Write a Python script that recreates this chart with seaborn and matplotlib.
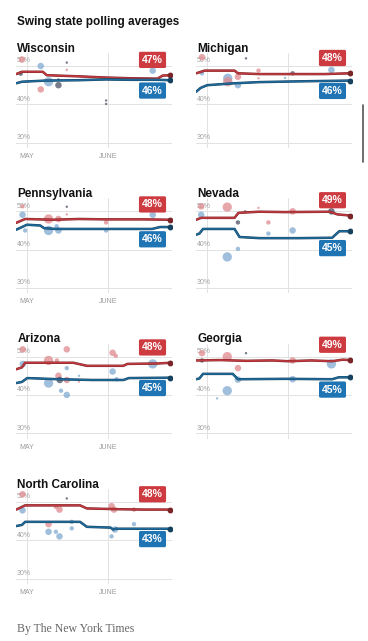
import matplotlib
matplotlib.use("Agg")
import matplotlib.pyplot as plt
import matplotlib.patheffects as pe
import matplotlib.transforms as mtransforms
from matplotlib.lines import Line2D
import pandas as pd
import seaborn as sns

START = pd.Timestamp("2024-05-01")

STATES = ["Wisconsin", "Michigan", "Pennsylvania", "Nevada",
          "Arizona", "Georgia", "North Carolina"]
REP_FINAL = [47, 48, 48, 49, 48, 49, 48]
DEM_FINAL = [46, 46, 46, 45, 45, 45, 43]
MONTH_TICKS = ["2024-05-01", "2024-06-01"]
MONTH_LABELS = ["MAY", "JUNE"]
Y_TICKS = [30, 40, 50]

# polling averages as (days after May 1, percent)
REP_TREND = {
    "Wisconsin": [(-4.2, 47.9), (-2, 48.5), (6, 48.5), (7.5, 47.6), (20, 47.3),
                  (30, 47.0), (40, 46.8), (50, 46.7), (52, 47.5), (55, 47.6)],
    "Michigan": [(-4.2, 48.1), (-1, 48.8), (10.5, 48.8), (11.8, 48.1), (20, 47.9),
                 (30, 47.9), (45, 47.9), (55, 48.1)],
    "Pennsylvania": [(-4.2, 47.0), (-0.8, 48.0), (10, 47.8), (20, 48.0), (30, 47.9),
                     (45, 47.9), (55, 47.8)],
    "Nevada": [(-4.2, 47.8), (-2.3, 48.3), (10.5, 48.3), (12, 49.6), (20, 49.9),
               (30, 49.8), (47, 49.9), (50, 49.2), (55, 48.9)],
    "Arizona": [(-4.2, 46.7), (-2, 47.2), (-0.8, 48.4), (17.7, 48.4), (22.9, 47.6),
                (36.9, 47.6), (38.5, 48.1), (50, 48.2), (55, 48.4)],
    "Georgia": [(-4.2, 49.0), (5, 49.1), (15, 48.9), (25, 49.0), (31, 48.8),
                (40, 49.0), (48, 48.8), (52, 49.2), (55, 49.1)],
    "North Carolina": [(-4.2, 48.0), (-0.8, 49.1), (20.3, 49.1), (22.9, 48.3),
                       (35, 48.1), (45, 48.0), (55, 48.0)],
}
DEM_TREND = {
    "Wisconsin": [(-4.2, 45.5), (-2, 45.9), (7, 46.2), (20, 46.3), (30, 46.5),
                  (40, 46.4), (50, 46.4), (55, 46.3)],
    "Michigan": [(-4.2, 43.3), (-2.5, 44.3), (0, 45.0), (10.5, 45.5), (20, 45.8),
                 (35, 46.0), (55, 46.2)],
    "Pennsylvania": [(-4.2, 45.2), (-0.1, 46.5), (5, 46.3), (6.5, 45.6), (11, 45.4),
                     (30, 45.4), (48, 45.4), (51, 45.9), (55, 45.9)],
    "Nevada": [(-4.2, 43.9), (-3, 44.2), (-1.6, 45.4), (10.5, 45.4), (12.4, 43.3),
               (20, 43.0), (35, 43.0), (48, 43.1), (50.7, 44.8), (55, 44.8)],
    "Arizona": [(-4.2, 43.1), (-2, 43.4), (0, 44.4), (12, 44.1), (25, 43.9),
                (37, 43.9), (39, 44.4), (55, 44.5)],
    "Georgia": [(-4.2, 44.1), (-3, 44.3), (-1.6, 45.5), (9.8, 45.5), (11.8, 44.1),
                (30, 44.2), (48, 44.1), (50.5, 44.6), (55, 44.6)],
    "North Carolina": [(-4.2, 43.7), (-2, 44.0), (-0.8, 44.8), (20.3, 44.8),
                       (22.9, 43.5), (32, 43.3), (33, 42.8), (34, 43.0), (55, 43.0)],
}

# individual polls: (days after May 1, percent, R / D / X=overlap, size class)
POLLS = {
    "Wisconsin": [(-2, 51.7, "R", 3), (-2.5, 48.0, "X", 2), (5.2, 50.0, "D", 3),
                  (5.2, 43.9, "R", 3), (8.2, 45.9, "D", 4), (12, 45.0, "X", 3),
                  (12, 46.5, "X", 1), (15.2, 50.9, "X", 1), (15.2, 49.0, "R", 1),
                  (30.3, 41.0, "X", 1), (30.3, 40.1, "X", 1), (48.2, 48.8, "D", 3)],
    "Michigan": [(-2, 52.3, "R", 3), (-2, 48.1, "D", 2), (14.9, 52.0, "X", 1),
                 (7.9, 46.8, "D", 4), (7.9, 45.9, "R", 4), (11.8, 47.2, "R", 3),
                 (11.8, 45.0, "D", 3), (19.7, 48.8, "R", 2), (19.7, 46.8, "R", 1),
                 (29.9, 46.9, "D", 1), (32.8, 48.1, "X", 2), (47.7, 49.0, "D", 3)],
    "Pennsylvania": [(-1.8, 51.3, "R", 2), (-1.8, 49.1, "D", 3), (-0.8, 45.0, "D", 2),
                     (15.2, 51.2, "X", 1), (15.2, 49.2, "R", 1), (8.2, 48.0, "R", 4),
                     (8.2, 45.0, "D", 4), (12, 48.0, "R", 3), (12, 45.0, "D", 3),
                     (11.3, 46.1, "D", 2), (30.3, 47.1, "R", 2), (30.3, 45.0, "D", 2),
                     (48.2, 49.1, "D", 3)],
    "Nevada": [(-2.3, 49.1, "D", 3), (-2.3, 51.3, "R", 3), (7.7, 51.1, "R", 4),
               (14.6, 50.0, "X", 1), (19.7, 50.9, "R", 1), (11.8, 47.1, "X", 2),
               (23.5, 47.1, "R", 2), (23.5, 44.2, "D", 2), (32.8, 50.0, "R", 3),
               (32.8, 45.0, "D", 3), (47.7, 50.0, "X", 3), (7.7, 38.1, "D", 4),
               (11.8, 40.2, "D", 2)],
    "Arizona": [(-1.7, 51.9, "R", 3), (-1.7, 48.1, "D", 3), (8.2, 49.0, "R", 4),
                (11.4, 49.0, "R", 2), (15.2, 51.9, "R", 3), (15.2, 47.0, "D", 2),
                (12, 45.0, "R", 3), (8.2, 43.1, "D", 4), (12.5, 43.9, "X", 3),
                (15.2, 43.9, "R", 3), (19.9, 45.0, "D", 1), (19.9, 43.5, "R", 1),
                (13, 41.1, "D", 2), (15.2, 40.0, "D", 3), (32.8, 51.0, "R", 3),
                (34, 50.2, "R", 2), (32.8, 46.1, "D", 3), (34.3, 44.1, "D", 2),
                (48.2, 48.1, "D", 4)],
    "Georgia": [(-2, 50.9, "R", 3), (-2, 49.0, "X", 2), (7.7, 50.0, "R", 4),
                (14.9, 50.9, "X", 1), (11.8, 47.0, "R", 3), (11.8, 44.0, "D", 3),
                (7.7, 41.1, "D", 4), (3.8, 39.1, "D", 1), (32.8, 49.0, "R", 3),
                (32.8, 44.1, "D", 3), (47.7, 48.1, "D", 4)],
    "North Carolina": [(-1.8, 52.0, "R", 3), (-1.8, 47.8, "D", 3), (15.2, 50.9, "X", 1),
                       (11, 48.7, "R", 2), (12.4, 48.0, "R", 3), (8.2, 44.2, "R", 3),
                       (8.2, 42.2, "D", 3), (11, 42.2, "D", 2), (12.4, 41.0, "D", 3),
                       (17.1, 44.8, "D", 2), (17.1, 43.1, "D", 2), (32.4, 48.9, "R", 3),
                       (33.3, 48.0, "R", 3), (32.4, 41.0, "D", 2), (33.7, 42.8, "D", 3),
                       (41, 48.0, "R", 2), (41, 44.2, "D", 2)],
}

LINE_COLORS = {"R": "#c23a3f", "D": "#1f6b9c"}
EDGE_COLORS = {"R": "#7c2529", "D": "#15425f"}
BOX_COLORS = {"R": "#cd3b41", "D": "#1f74b4"}
DOT_COLORS = {"R": "#e08a8e", "D": "#80aad2", "X": "#4a5064"}
DOT_SIZES = {1: 3, 2: 10, 3: 22, 4: 45}

sns.set_theme(style="white")
plt.rcParams["font.family"] = ["Liberation Sans", "DejaVu Sans"]

W, H = 368, 641
fig = plt.figure(figsize=(W / 100, H / 100), dpi=100)


def to_dates(days):
    return START + pd.to_timedelta(pd.Series(days, dtype=float), unit="D")


for i, state in enumerate(STATES):
    row, col = divmod(i, 2)
    left = (16 if col == 0 else 196) / W
    top = 53 + 145.3 * row
    ax = fig.add_axes([left, 1 - (top + 95) / H, 156 / W, 95 / H])

    polls = pd.DataFrame(POLLS[state], columns=["day", "pct", "kind", "size"])
    polls["date"] = to_dates(polls["day"]).values
    sns.scatterplot(data=polls, x="date", y="pct", hue="kind", palette=DOT_COLORS,
                    size="size", sizes=DOT_SIZES, alpha=0.75, linewidth=0,
                    legend=False, ax=ax, zorder=2)

    trends = []
    for party, src in (("R", REP_TREND), ("D", DEM_TREND)):
        t = pd.DataFrame(src[state], columns=["day", "pct"])
        t["party"] = party
        trends.append(t)
    trends = pd.concat(trends, ignore_index=True)
    trends["date"] = to_dates(trends["day"]).values
    for party in ("R", "D"):
        sub = trends[trends["party"] == party]
        sns.lineplot(data=sub, x="date", y="pct", color=LINE_COLORS[party], lw=1.1,
                     ax=ax, zorder=4,
                     path_effects=[pe.Stroke(linewidth=1.8, foreground=EDGE_COLORS[party]),
                                   pe.Normal()])
        ax.plot(sub["date"].iloc[-1], sub["pct"].iloc[-1], "o", ms=3.2,
                color=EDGE_COLORS[party], zorder=5)

    ax.set_xlim(START + pd.Timedelta(days=-4.3), START + pd.Timedelta(days=55.6))
    ax.set_ylim(28.6, 53.4)
    ax.set_xticks(pd.to_datetime(MONTH_TICKS))
    ax.set_yticks(Y_TICKS)
    ax.grid(True, color="#e2e2e2", lw=0.7)
    ax.set_axisbelow(True)
    ax.tick_params(length=0, labelleft=False, labelbottom=False)
    ax.set_xlabel("")
    ax.set_ylabel("")
    for s in ax.spines.values():
        s.set_visible(False)

    ybl = mtransforms.blended_transform_factory(ax.transAxes, ax.transData)
    for v in Y_TICKS:
        ax.text(0.005, v + 0.45, f"{v}%", transform=ybl, fontsize=5,
                color="#a3a3a3", ha="left", va="bottom", zorder=1)

    if col == 0:
        xbl = mtransforms.blended_transform_factory(ax.transData, ax.transAxes)
        for d, lab in zip(pd.to_datetime(MONTH_TICKS), MONTH_LABELS):
            ax.text(d, -0.09, lab, transform=xbl, fontsize=5, color="#9a9a9a",
                    ha="center", va="center", clip_on=False)

    ax.text(0.008, 1.012, state, transform=ax.transAxes, fontsize=8.5,
            fontweight="bold", color="#121212", ha="left", va="baseline")

    rep = trends[trends["party"] == "R"]["pct"]
    dem = trends[trends["party"] == "D"]
    rep_y = rep.iloc[-1] + 4.0
    dem_y = dem[dem["day"] >= 43]["pct"].min() - 2.7
    for y, txt, party in ((rep_y, REP_FINAL[i], "R"), (dem_y, DEM_FINAL[i], "D")):
        ax.text(0.875, y, f"{txt}%", transform=ybl, ha="center", va="center",
                fontsize=7.5, fontweight="bold", color="white", zorder=6,
                bbox=dict(boxstyle="round,pad=0.3,rounding_size=0.15",
                          fc=BOX_COLORS[party], ec="none"))

fig.text(17 / W, 1 - 25 / H, "Swing state polling averages", fontsize=8.5,
         fontweight="bold", color="#121212", ha="left", va="baseline")
fig.text(17 / W, 1 - 629 / H, "By The New York Times", fontsize=8.5,
         family=["Liberation Serif", "DejaVu Serif"], color="#666666",
         ha="left", va="center")
fig.add_artist(Line2D([363 / W, 363 / W], [1 - 105 / H, 1 - 162 / H],
                      color="#555555", lw=1.2))

fig.savefig("out.png", dpi=100)
